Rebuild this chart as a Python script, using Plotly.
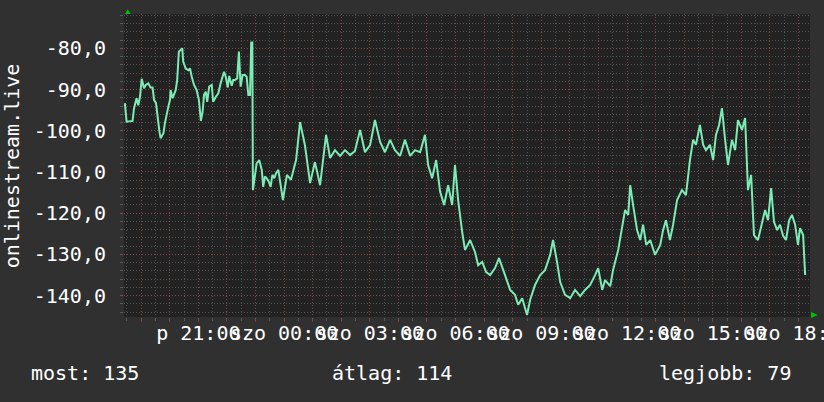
import plotly.graph_objects as go

# time in hours since Friday 00:00, signal level values
hours = [18.43, 18.49, 18.70, 18.75, 18.84, 18.90, 18.96, 19.02, 19.10, 19.16, 19.25, 19.33, 19.40, 19.45,
         19.52, 19.57, 19.64, 19.68, 19.78, 19.83, 19.89, 19.95, 20.01, 20.03, 20.10, 20.15, 20.21, 20.26,
         20.32, 20.38, 20.44, 20.47, 20.56, 20.65, 20.71, 20.77, 20.85, 20.94, 21.02, 21.09, 21.15, 21.20,
         21.26, 21.31, 21.38, 21.47, 21.52, 21.62, 21.70, 21.78, 21.90, 21.96, 22.03, 22.08, 22.17, 22.22,
         22.28, 22.36, 22.42, 22.48, 22.55, 22.63, 22.69, 22.75, 22.81, 22.85, 22.89, 22.91, 23.04, 23.13,
         23.22, 23.27, 23.33, 23.39, 23.47, 23.53, 23.59, 23.66, 23.72, 23.80, 23.96, 24.10, 24.24, 24.42,
         24.56, 24.73, 24.91, 25.08, 25.26, 25.47, 25.61, 25.78, 25.96, 26.13, 26.31, 26.48, 26.66, 26.83,
         27.01, 27.18, 27.36, 27.53, 27.71, 27.88, 28.06, 28.23, 28.41, 28.58, 28.76, 28.93, 29.04, 29.18,
         29.32, 29.46, 29.60, 29.74, 29.88, 29.98, 30.09, 30.23, 30.33, 30.51, 30.68, 30.79, 30.93, 31.07,
         31.21, 31.38, 31.52, 31.73, 31.91, 32.08, 32.19, 32.33, 32.50, 32.61, 32.78, 32.96, 33.13, 33.31,
         33.41, 33.55, 33.66, 33.83, 34.01, 34.18, 34.36, 34.53, 34.71, 34.88, 34.99, 35.13, 35.23, 35.41,
         35.51, 35.69, 35.83, 35.93, 36.04, 36.11, 36.21, 36.35, 36.46, 36.56, 36.67, 36.81, 36.98, 37.16,
         37.26, 37.36, 37.50, 37.61, 37.75, 37.92, 38.06, 38.20, 38.31, 38.41, 38.55, 38.66, 38.76, 38.90,
         39.01, 39.11, 39.22, 39.32, 39.43, 39.53, 39.67, 39.78, 39.88, 40.02, 40.13, 40.23, 40.34, 40.44,
         40.58, 40.72, 40.83, 40.93, 41.04, 41.14, 41.25, 41.35, 41.46, 41.56, 41.67, 41.77, 41.88, 41.98,
         42.05, 42.16, 42.23]

signal = [-93.3, -97.8, -97.6, -94.6, -92.1, -93.8, -91.7, -87.4, -89.7, -88.9, -88.5, -89.5, -89.5, -92.5,
          -93.3, -96.6, -100.2, -101.8, -100.6, -98.2, -95.8, -94.2, -92.5, -90.1, -92.1, -90.9, -90.1, -87.7,
          -80.8, -80.4, -80.0, -83.2, -84.9, -85.3, -84.9, -86.9, -88.9, -90.1, -92.5, -97.6, -95.4, -91.3,
          -90.5, -93.0, -89.3, -88.9, -93.0, -91.7, -90.9, -88.5, -85.7, -86.9, -89.5, -86.7, -89.1, -87.7,
          -87.7, -87.3, -80.8, -89.3, -86.5, -86.5, -86.9, -91.3, -91.3, -78.6, -78.6, -114.4, -107.9, -107.1,
          -109.5, -113.6, -111.1, -111.5, -112.4, -113.6, -110.7, -111.5, -110.3, -109.5, -116.8, -110.7, -111.9, -107.1,
          -97.9, -103.5, -112.7, -107.6, -113.2, -101.0, -106.6, -104.7, -106.1, -104.7, -105.9, -104.9, -99.8, -105.2,
          -103.5, -97.4, -102.7, -105.2, -102.2, -104.7, -106.1, -102.2, -106.1, -104.7, -105.2, -101.0, -108.3, -111.5,
          -107.1, -114.8, -118.0, -113.2, -118.0, -108.3, -116.8, -124.5, -128.9, -126.5, -129.4, -132.6, -131.8, -134.3,
          -135.0, -133.3, -130.9, -135.0, -138.6, -139.8, -142.2, -140.6, -144.7, -141.0, -137.4, -135.0, -133.8, -130.1,
          -126.5, -131.8, -136.7, -139.8, -140.6, -138.6, -140.1, -138.6, -137.4, -135.0, -133.3, -138.6, -136.2, -137.7,
          -133.8, -128.9, -122.8, -119.2, -120.4, -113.2, -118.0, -124.1, -126.5, -122.8, -127.7, -126.5, -130.1, -127.7,
          -124.1, -121.7, -126.5, -122.8, -116.8, -114.4, -115.6, -107.1, -102.2, -103.4, -98.6, -103.4, -104.7, -103.4,
          -107.1, -101.0, -98.6, -94.5, -102.2, -108.3, -102.2, -104.7, -97.4, -99.8, -96.9, -114.4, -110.7, -125.3,
          -126.5, -122.1, -119.2, -121.7, -113.9, -122.1, -124.1, -122.8, -125.5, -126.5, -121.7, -120.4, -122.8, -127.7,
          -123.6, -125.3, -135.0]

x_tick_hours = [21, 24, 27, 30, 33, 36, 39, 42]
x_tick_labels = ["p 21:00", "szo 00:00", "szo 03:00", "szo 06:00", "szo 09:00",
                 "szo 12:00", "szo 15:00", "szo 18:00"]
y_tick_values = [-140, -130, -120, -110, -100, -90, -80]
y_tick_labels = ["-140,0", "-130,0", "-120,0", "-110,0", "-100,0", "-90,0", "-80,0"]
y_title = "onlinestream.live"
summary = ["most: 135", "átlag: 114", "legjobb: 79"]

FONT = "DejaVu Sans Mono"
MAJOR = "rgba(170,60,60,0.55)"
MINOR = "rgba(140,140,140,0.45)"
DOT = "1px,2px"

major_hours = list(range(19, 43))
major_text = [x_tick_labels[x_tick_hours.index(h)] if h in x_tick_hours else "" for h in major_hours]

fig = go.Figure()
fig.add_trace(go.Scatter(x=hours, y=signal, mode="lines",
                         line=dict(color="#7CEBB5", width=2), hoverinfo="skip"))

fig.update_layout(
    width=824, height=402,
    margin=dict(l=124, r=14, t=14, b=85, autoexpand=False),
    paper_bgcolor="#303030", plot_bgcolor="#222222",
    showlegend=False,
    font=dict(family=FONT, size=20, color="#ffffff"),
)
fig.update_xaxes(
    range=[18.4, 42.4], tickmode="array", tickvals=major_hours, ticktext=major_text,
    tickangle=0, ticklabeloverflow="allow", automargin=False,
    showgrid=True, gridcolor=MAJOR, griddash=DOT, gridwidth=1,
    ticks="outside", ticklen=4, tickcolor=MAJOR, ticklabelstandoff=-6,
    minor=dict(tickmode="linear", tick0=0, dtick=0.5, showgrid=True, gridcolor=MINOR,
               griddash=DOT, ticks="outside", ticklen=3, tickcolor=MINOR),
    zeroline=False, showline=False,
    tickfont=dict(family=FONT, size=20, color="#ffffff"),
)
fig.update_yaxes(
    range=[-145.17, -71.68], tickmode="array", tickvals=y_tick_values, ticktext=y_tick_labels,
    automargin=False,
    showgrid=True, gridcolor=MAJOR, griddash=DOT, gridwidth=1,
    ticks="outside", ticklen=3, tickcolor=MAJOR, ticklabelstandoff=10,
    minor=dict(tickmode="linear", tick0=0, dtick=2, showgrid=True, gridcolor=MINOR,
               griddash=DOT, ticks="outside", ticklen=3, tickcolor=MINOR),
    zeroline=False, showline=False,
    tickfont=dict(family=FONT, size=20, color="#ffffff"),
)

fig.add_annotation(text=y_title, xref="paper", yref="paper", x=-0.1635, y=0.5,
                   textangle=-90, showarrow=False, font=dict(family=FONT, size=20, color="#ffffff"),
                   xanchor="center", yanchor="middle")
fig.add_annotation(text=summary[0], xref="paper", yref="paper", x=-0.1385, y=-0.185,
                   showarrow=False, xanchor="left", yanchor="middle")
fig.add_annotation(text=summary[1], xref="paper", yref="paper", x=0.3003, y=-0.185,
                   showarrow=False, xanchor="left", yanchor="middle")
fig.add_annotation(text=summary[2], xref="paper", yref="paper", x=0.9752, y=-0.185,
                   showarrow=False, xanchor="right", yanchor="middle")

# axis arrows (decoration)
fig.add_shape(type="path", xref="paper", yref="paper",
              path="M 0.0015 1.0 L 0.0095 1.0 L 0.0055 1.016 Z",
              fillcolor="#00c000", line=dict(width=0))
fig.add_shape(type="path", xref="paper", yref="paper",
              path="M 1.0015 0.0165 L 1.0015 -0.0035 L 1.0115 0.0065 Z",
              fillcolor="#00c000", line=dict(width=0))

fig.write_html(
    "out.html",
    config={"displayModeBar": False},
    post_script="document.body.style.margin='0';document.body.style.overflow='hidden';"
                "document.body.style.background='#303030';",
)
